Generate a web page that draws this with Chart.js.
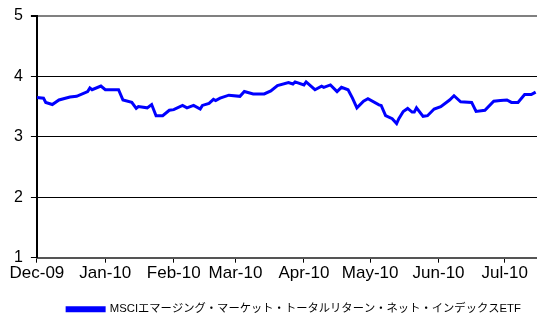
<!DOCTYPE html>
<html>
<head>
<meta charset="utf-8">
<script src="https://cdn.jsdelivr.net/npm/chart.js@4/dist/chart.umd.min.js"></script>
<style>
  html, body { margin: 0; padding: 0; background: #fff; overflow: hidden; }
  #wrap { width: 537px; height: 316px; overflow: hidden; }
</style>
</head>
<body>
<div id="wrap"><canvas id="chart" width="590" height="325"></canvas></div>
<script>
// data
const seriesName = 'MSCIエマージング・マーケット・トータルリターン・ネット・インデックスETF';
const dates = [
    '2009-12-01', '2009-12-04', '2009-12-05', '2009-12-08', '2009-12-11', '2009-12-16', '2009-12-19',
    '2009-12-24', '2009-12-25', '2009-12-26', '2009-12-30', '2010-01-01', '2010-01-07', '2010-01-09',
    '2010-01-13', '2010-01-15', '2010-01-16', '2010-01-20', '2010-01-22', '2010-01-24', '2010-01-27',
    '2010-01-30', '2010-02-01', '2010-02-05', '2010-02-07', '2010-02-10', '2010-02-13', '2010-02-14',
    '2010-02-17', '2010-02-19', '2010-02-20', '2010-02-22', '2010-02-26', '2010-03-03', '2010-03-05',
    '2010-03-09', '2010-03-14', '2010-03-17', '2010-03-20', '2010-03-25', '2010-03-27', '2010-03-28',
    '2010-04-01', '2010-04-02', '2010-04-06', '2010-04-09', '2010-04-10', '2010-04-13', '2010-04-16',
    '2010-04-18', '2010-04-21', '2010-04-23', '2010-04-25', '2010-04-28', '2010-04-30', '2010-05-05',
    '2010-05-06', '2010-05-08', '2010-05-11', '2010-05-13', '2010-05-14', '2010-05-16', '2010-05-18',
    '2010-05-20', '2010-05-21', '2010-05-22', '2010-05-25', '2010-05-27', '2010-05-30', '2010-06-02',
    '2010-06-06', '2010-06-08', '2010-06-11', '2010-06-16', '2010-06-18', '2010-06-22', '2010-06-26',
    '2010-06-29', '2010-07-02', '2010-07-04', '2010-07-07', '2010-07-10', '2010-07-13', '2010-07-15'
];
const values = [
    3.65, 3.64, 3.57, 3.535, 3.61, 3.66, 3.67,
    3.75, 3.81, 3.78, 3.84, 3.78, 3.78, 3.61,
    3.57, 3.47, 3.50, 3.48, 3.535, 3.35, 3.35,
    3.44, 3.45, 3.52, 3.48, 3.52, 3.46, 3.52,
    3.555, 3.62, 3.60, 3.64, 3.69, 3.67, 3.75,
    3.71, 3.71, 3.76, 3.85, 3.90, 3.875, 3.91,
    3.86, 3.91, 3.78, 3.84, 3.82, 3.86, 3.75,
    3.82, 3.78, 3.64, 3.48, 3.59, 3.63, 3.53,
    3.52, 3.35, 3.30, 3.22, 3.30, 3.42, 3.47,
    3.41, 3.41, 3.48, 3.34, 3.35, 3.46, 3.50,
    3.61, 3.68, 3.58, 3.57, 3.42, 3.44, 3.59,
    3.60, 3.61, 3.57, 3.57, 3.70, 3.70, 3.74
];
const monthStarts = ['2009-12-01', '2010-01-01', '2010-02-01', '2010-03-01', '2010-04-01', '2010-05-01', '2010-06-01', '2010-07-01'];
const monthLabels = ['Dec-09', 'Jan-10', 'Feb-10', 'Mar-10', 'Apr-10', 'May-10', 'Jun-10', 'Jul-10'];
const yTicks = [1, 2, 3, 4, 5];

// days since the first month start
const origin = Date.parse(monthStarts[0]);
const toDay = (d) => Math.round((Date.parse(d) - origin) / 86400000);
const monthDays = monthStarts.map(toDay);

const points = dates.map((d, i) => ({ x: toDay(d), y: values[i] }));

new Chart(document.getElementById('chart'), {
    type: 'line',
    data: {
        datasets: [{
            label: seriesName,
            data: points,
            borderColor: '#0000ff',
            backgroundColor: '#0000ff',
            borderWidth: 3,
            pointRadius: 0,
            tension: 0,
        }],
    },
    options: {
        responsive: false,
        animation: false,
        layout: { padding: { top: 5, left: 6, right: 8, bottom: 0 } },
        scales: {
            x: {
                type: 'linear',
                min: 0,
                max: 247,
                afterBuildTicks: (axis) => { axis.ticks = monthDays.map((v) => ({ value: v })); },
                ticks: {
                    color: '#000',
                    font: { family: 'Liberation Sans, Arial', size: 17 },
                    padding: 0,
                    maxRotation: 0,
                    autoSkip: false,
                    callback: (v) => monthLabels[monthDays.indexOf(v)],
                },
                // blank title only to keep space above the legend
                title: { display: true, text: ' ', font: { size: 13 }, padding: { top: 0, bottom: 1 } },
                grid: { drawOnChartArea: false, color: '#000', tickLength: 5 },
                border: { color: '#555', width: 2 },
            },
            y: {
                min: 1,
                max: 5,
                afterBuildTicks: (axis) => { axis.ticks = yTicks.map((v) => ({ value: v })); },
                ticks: {
                    color: '#000',
                    font: { family: 'Liberation Sans, Arial', size: 16, lineHeight: 1 },
                    padding: 8,
                },
                grid: {
                    color: (ctx) => (ctx.tick && (ctx.tick.value === 5 || ctx.tick.value === 1) ? '#808080' : '#000'),
                    lineWidth: (ctx) => (ctx.tick && ctx.tick.value === 5 ? 2 : 1),
                    tickColor: '#000',
                    tickLength: 6,
                },
                border: { color: '#000', width: 2 },
            },
        },
        plugins: {
            legend: {
                position: 'bottom',
                labels: {
                    color: '#000',
                    font: { family: 'Liberation Sans, Noto Sans CJK JP', size: 11.3 },
                    boxWidth: 37,
                    boxHeight: 3,
                    padding: 4,
                },
            },
            tooltip: { enabled: false },
        },
    },
});
</script>
</body>
</html>
